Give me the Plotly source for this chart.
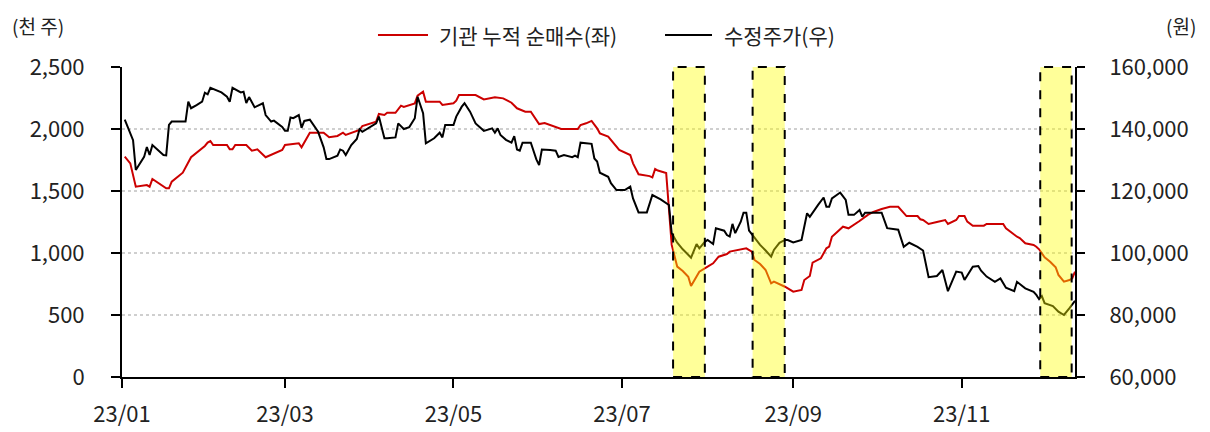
import plotly.graph_objects as go

# 기관 누적 순매수 (천 주, left axis)
red_dates = ["2023-01-02", "2023-01-03", "2023-01-04", "2023-01-06", "2023-01-10", "2023-01-11", "2023-01-12",
             "2023-01-17", "2023-01-18", "2023-01-19", "2023-01-21", "2023-01-23", "2023-01-26", "2023-01-27",
             "2023-01-29", "2023-01-31", "2023-02-01", "2023-02-02", "2023-02-03", "2023-02-08", "2023-02-09",
             "2023-02-10", "2023-02-11", "2023-02-15", "2023-02-17", "2023-02-19", "2023-02-22", "2023-02-25",
             "2023-02-28", "2023-03-01", "2023-03-06", "2023-03-07", "2023-03-10", "2023-03-15", "2023-03-17",
             "2023-03-20", "2023-03-22", "2023-03-23", "2023-03-28", "2023-03-29", "2023-03-31", "2023-04-03",
             "2023-04-04", "2023-04-06", "2023-04-07", "2023-04-10", "2023-04-12", "2023-04-13", "2023-04-17",
             "2023-04-18", "2023-04-20", "2023-04-21", "2023-04-26", "2023-04-27", "2023-05-01", "2023-05-02",
             "2023-05-03", "2023-05-09", "2023-05-12", "2023-05-16", "2023-05-19", "2023-05-22", "2023-05-24",
             "2023-05-27", "2023-05-29", "2023-05-31", "2023-06-01", "2023-06-03", "2023-06-06", "2023-06-09",
             "2023-06-15", "2023-06-16", "2023-06-18", "2023-06-20", "2023-06-22", "2023-06-23", "2023-06-26",
             "2023-06-28", "2023-06-30", "2023-07-04", "2023-07-05", "2023-07-07", "2023-07-11", "2023-07-12",
             "2023-07-13", "2023-07-14", "2023-07-17", "2023-07-19", "2023-07-21", "2023-07-23", "2023-07-25",
             "2023-07-26", "2023-07-28", "2023-07-29", "2023-08-01", "2023-08-03", "2023-08-05", "2023-08-08",
             "2023-08-09", "2023-08-11", "2023-08-13", "2023-08-15", "2023-08-17", "2023-08-18", "2023-08-20",
             "2023-08-22", "2023-08-24", "2023-08-25", "2023-08-29", "2023-08-30", "2023-09-01", "2023-09-04",
             "2023-09-05", "2023-09-07", "2023-09-08", "2023-09-11", "2023-09-13", "2023-09-14", "2023-09-15",
             "2023-09-17", "2023-09-19", "2023-09-21", "2023-09-23", "2023-09-25", "2023-09-28", "2023-09-30",
             "2023-10-03", "2023-10-06", "2023-10-09", "2023-10-12", "2023-10-16", "2023-10-17", "2023-10-18",
             "2023-10-20", "2023-10-23", "2023-10-26", "2023-10-27", "2023-10-30", "2023-10-31", "2023-11-02",
             "2023-11-03", "2023-11-05", "2023-11-09", "2023-11-10", "2023-11-16", "2023-11-17", "2023-11-21",
             "2023-11-22", "2023-11-24", "2023-11-27", "2023-11-28", "2023-11-29", "2023-12-01", "2023-12-03",
             "2023-12-05", "2023-12-06", "2023-12-08", "2023-12-10", "2023-12-11", "2023-12-12"]
red_vals = [1777, 1750, 1723, 1535, 1548, 1535, 1597,
            1522, 1522, 1575, 1615, 1648, 1772, 1790,
            1831, 1863, 1890, 1903, 1871, 1871, 1836,
            1836, 1871, 1871, 1825, 1836, 1772, 1804,
            1831, 1871, 1885, 1852, 1970, 1970, 1933,
            1944, 1970, 1952, 1992, 2024, 2040, 2059,
            2121, 2113, 2131, 2131, 2188, 2178, 2207,
            2269, 2301, 2220, 2220, 2194, 2207, 2228,
            2274, 2274, 2239, 2255, 2247, 2212, 2167,
            2140, 2140, 2073, 2040, 2048, 2027, 2000,
            2000, 2032, 2046, 2065, 2005, 1965, 1938,
            1885, 1831, 1790, 1723, 1635, 1620, 1610,
            1677, 1665, 1645, 1065, 890, 855, 809,
            734, 810, 849, 890, 917, 970, 992,
            1011, 1018, 1030, 1038, 1011, 944, 911,
            863, 756, 769, 728, 715, 688, 702,
            782, 815, 922, 957, 1038, 1051, 1131,
            1172, 1212, 1199, 1226, 1258, 1307, 1331,
            1355, 1373, 1373, 1298, 1298, 1272, 1266,
            1234, 1250, 1266, 1234, 1266, 1298, 1298,
            1253, 1220, 1220, 1234, 1234, 1199, 1131,
            1121, 1078, 1065, 1051, 1030, 965, 930,
            885, 823, 769, 782, 796, 849]

# 수정주가 (원, right axis)
price_dates = ["2023-01-02", "2023-01-05", "2023-01-06", "2023-01-09", "2023-01-10", "2023-01-11", "2023-01-12",
               "2023-01-16", "2023-01-17", "2023-01-18", "2023-01-19", "2023-01-24", "2023-01-25", "2023-01-26",
               "2023-01-28", "2023-01-30", "2023-01-31", "2023-02-01", "2023-02-02", "2023-02-06", "2023-02-08",
               "2023-02-09", "2023-02-10", "2023-02-13", "2023-02-14", "2023-02-15", "2023-02-16", "2023-02-18",
               "2023-02-21", "2023-02-22", "2023-02-24", "2023-02-25", "2023-02-28", "2023-03-01", "2023-03-02",
               "2023-03-03", "2023-03-04", "2023-03-06", "2023-03-07", "2023-03-08", "2023-03-10", "2023-03-13",
               "2023-03-15", "2023-03-16", "2023-03-17", "2023-03-20", "2023-03-21", "2023-03-22", "2023-03-23",
               "2023-03-25", "2023-03-27", "2023-03-28", "2023-03-29", "2023-03-31", "2023-04-03", "2023-04-04",
               "2023-04-06", "2023-04-07", "2023-04-10", "2023-04-11", "2023-04-13", "2023-04-15", "2023-04-17",
               "2023-04-18", "2023-04-20", "2023-04-21", "2023-04-24", "2023-04-26", "2023-04-27", "2023-04-28",
               "2023-05-01", "2023-05-02", "2023-05-04", "2023-05-05", "2023-05-07", "2023-05-09", "2023-05-12",
               "2023-05-15", "2023-05-16", "2023-05-17", "2023-05-18", "2023-05-20", "2023-05-22", "2023-05-23",
               "2023-05-24", "2023-05-25", "2023-05-26", "2023-05-29", "2023-05-31", "2023-06-01", "2023-06-02",
               "2023-06-05", "2023-06-07", "2023-06-08", "2023-06-10", "2023-06-13", "2023-06-14", "2023-06-15",
               "2023-06-16", "2023-06-18", "2023-06-20", "2023-06-21", "2023-06-22", "2023-06-23", "2023-06-26",
               "2023-06-27", "2023-06-29", "2023-07-02", "2023-07-04", "2023-07-05", "2023-07-07", "2023-07-10",
               "2023-07-12", "2023-07-15", "2023-07-18", "2023-07-19", "2023-07-21", "2023-07-23", "2023-07-26",
               "2023-07-28", "2023-07-29", "2023-07-31", "2023-08-01", "2023-08-03", "2023-08-04", "2023-08-07",
               "2023-08-08", "2023-08-09", "2023-08-10", "2023-08-11", "2023-08-13", "2023-08-14", "2023-08-15",
               "2023-08-16", "2023-08-17", "2023-08-18", "2023-08-20", "2023-08-22", "2023-08-24", "2023-08-25",
               "2023-08-27", "2023-08-29", "2023-08-30", "2023-09-01", "2023-09-04", "2023-09-06", "2023-09-07",
               "2023-09-10", "2023-09-12", "2023-09-13", "2023-09-14", "2023-09-15", "2023-09-18", "2023-09-20",
               "2023-09-21", "2023-09-23", "2023-09-25", "2023-09-26", "2023-09-27", "2023-10-03", "2023-10-05",
               "2023-10-09", "2023-10-11", "2023-10-13", "2023-10-16", "2023-10-18", "2023-10-20", "2023-10-23",
               "2023-10-25", "2023-10-27", "2023-10-30", "2023-11-01", "2023-11-02", "2023-11-05", "2023-11-07",
               "2023-11-08", "2023-11-10", "2023-11-13", "2023-11-15", "2023-11-17", "2023-11-20", "2023-11-21",
               "2023-11-24", "2023-11-27", "2023-11-28", "2023-11-29", "2023-11-30", "2023-12-01", "2023-12-04",
               "2023-12-06", "2023-12-08", "2023-12-10", "2023-12-12"]
price_vals = [143000, 136400, 126800, 131000, 134200, 131600, 134800,
              131600, 131500, 141300, 142400, 142400, 148800, 146700,
              147700, 148800, 151700, 151200, 153300, 151800, 150400,
              148800, 153300, 151800, 152000, 148400, 150300, 147000,
              148300, 144500, 142400, 142700, 140700, 139400, 139400,
              143700, 143500, 144500, 140400, 142600, 143000, 139100,
              134100, 130300, 130300, 131400, 133400, 133000, 131600,
              134800, 136800, 139900, 139100, 140200, 141800, 144000,
              137000, 137000, 137300, 141800, 140000, 140600, 143500,
              150400, 145100, 135400, 137000, 138800, 137300, 141300,
              141300, 144000, 147200, 148300, 145600, 141800, 139400,
              140200, 138800, 140200, 138100, 136500, 135600, 137700,
              133400, 133000, 135600, 135600, 130200, 128400, 133400,
              133200, 133000, 131000, 131600, 130900, 131400, 130900,
              135600, 135400, 135200, 130500, 129500, 125900, 124600,
              122500, 120300, 120300, 121400, 117600, 113100, 113100,
              118700, 117300, 115500, 106400, 103300, 101200, 98500,
              102900, 101500, 103600, 104200, 102900, 108000, 107200,
              105800, 105300, 109400, 106400, 110100, 113000, 113000,
              107200, 106100, 104700, 102600, 100800, 98800, 101000,
              103300, 104200, 104200, 103400, 104200, 112800, 111700,
              115500, 117900, 114900, 114900, 117600, 119500, 117100,
              112300, 112300, 113900, 111700, 113000, 113000, 108000,
              107500, 102000, 103300, 102000, 100800, 92200, 92600,
              94500, 87700, 94000, 93700, 91300, 95600, 95800,
              94300, 92400, 90700, 91800, 88800, 87700, 90700,
              88600, 87500, 86500, 85100, 86100, 83800, 82900,
              81100, 80000, 82200, 84600]

# highlighted periods
hl_start = ["2023-07-19 12:00", "2023-08-17 07:00", "2023-11-29 10:00"]
hl_end = ["2023-07-31 00:00", "2023-08-28 22:00", "2023-12-10 19:00"]

tick_dates = ["2023-01-01", "2023-03-01", "2023-05-01", "2023-07-01", "2023-09-01", "2023-11-01"]
tick_labels = ["23/01", "23/03", "23/05", "23/07", "23/09", "23/11"]

series_names = ["기관 누적 순매수(좌)", "수정주가(우)"]
series_colors = ["#CC0000", "#000000"]

FONT = "Noto Sans CJK KR"

fig = go.Figure()
fig.add_trace(go.Scatter(x=red_dates, y=red_vals, name=series_names[0], mode="lines",
                         line=dict(color=series_colors[0], width=2), yaxis="y"))
fig.add_trace(go.Scatter(x=price_dates, y=price_vals, name=series_names[1], mode="lines",
                         line=dict(color=series_colors[1], width=2), yaxis="y2"))

for s, e in zip(hl_start, hl_end):
    fig.add_shape(type="rect", xref="x", yref="paper", x0=s, x1=e, y0=0, y1=1,
                  fillcolor="rgba(255,255,0,0.4)", line=dict(color="black", width=2, dash="dash"),
                  layer="above")

# legend drawn by hand so the keys can be as long as in the original
legend_x = [(0.2686, 0.3211, 0.3305), (0.5698, 0.6191, 0.6296)]
for (x0, x1, xt), name, col in zip(legend_x, series_names, series_colors):
    fig.add_shape(type="line", xref="paper", yref="paper", x0=x0, x1=x1, y0=1.103, y1=1.103,
                  line=dict(color=col, width=2))
    fig.add_annotation(text=name, xref="paper", yref="paper", x=xt, y=1.103,
                       xanchor="left", yanchor="middle", showarrow=False, font=dict(size=21))

# unit labels (kept inside the top edge of the figure)
fig.add_annotation(text="(천 주)", xref="paper", yref="paper", x=-0.1175, y=1.184,
                   xanchor="left", yanchor="top", showarrow=False, font=dict(size=19))
fig.add_annotation(text="(원)", xref="paper", yref="paper", x=1.1291, y=1.184,
                   xanchor="right", yanchor="top", showarrow=False, font=dict(size=19))

# the page body adds an 8px margin, so the figure sits 8px right and down in the window
fig.update_layout(
    width=1194, height=424,
    margin=dict(l=114, r=127, t=59, b=55, autoexpand=False),
    paper_bgcolor="white", plot_bgcolor="white",
    font=dict(family=FONT, size=22, color="#222222"),
    showlegend=False,
    xaxis=dict(type="date", range=["2023-01-01", "2023-12-12"],
               tickvals=tick_dates, ticktext=tick_labels,
               showgrid=False, zeroline=False, automargin=False,
               showline=True, linecolor="black", linewidth=1.5,
               ticks="outside", ticklen=9, tickwidth=1.5, tickcolor="black",
               ticklabelposition="outside", ticklabelstandoff=8, tickfont=dict(size=22)),
    yaxis=dict(range=[0, 2500], dtick=500, tickformat=",",
               showgrid=True, gridcolor="#cfcfcf", gridwidth=2, griddash="dot",
               zeroline=False, automargin=False,
               showline=True, linecolor="black", linewidth=2,
               ticks="outside", ticklen=9, tickwidth=1.5, tickcolor="black",
               ticklabelposition="outside", ticklabelstandoff=22, tickfont=dict(size=22)),
    yaxis2=dict(range=[60000, 160000], dtick=20000, tickformat=",",
                overlaying="y", side="right", showgrid=False, zeroline=False, automargin=False,
                showline=True, linecolor="black", linewidth=2,
                ticks="outside", ticklen=8, tickwidth=1.5, tickcolor="black",
                ticklabelposition="outside", ticklabelstandoff=20, tickfont=dict(size=22)),
)

fig.write_html("out.html")
